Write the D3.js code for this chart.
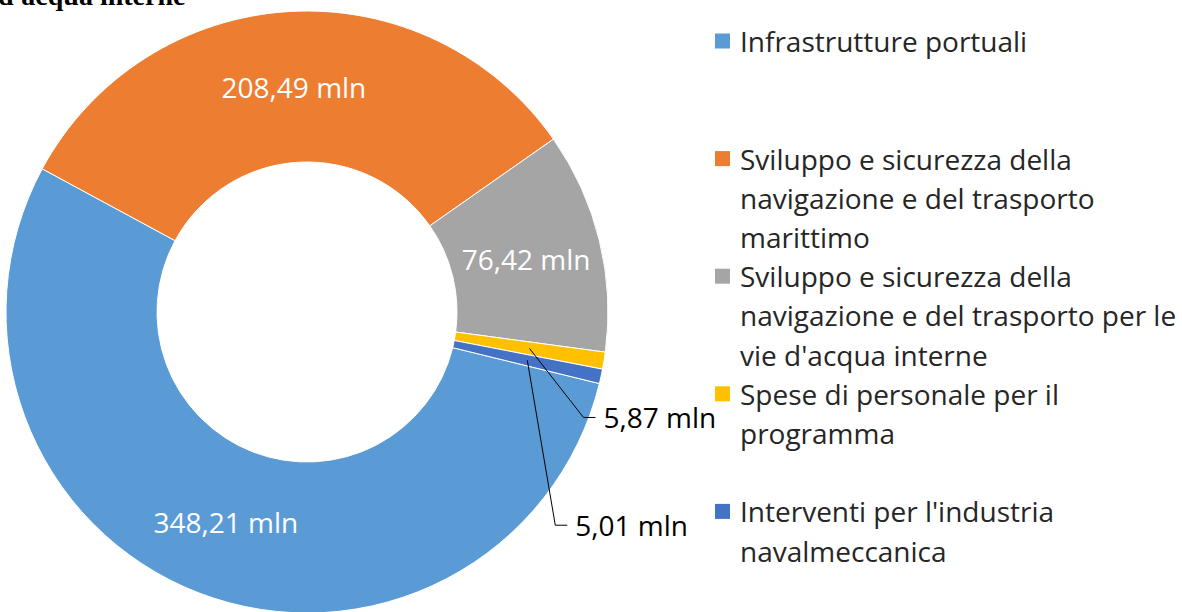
<!DOCTYPE html>
<html>
<head>
<meta charset="utf-8">
<script src="https://cdn.jsdelivr.net/npm/d3@7"></script>
<style>
  html, body { margin: 0; padding: 0; background: #fff; }
  svg { display: block; }
</style>
</head>
<body>
<svg id="chart" width="1182" height="612"></svg>
<script>
// ---- data ----
const categories = [
  "Infrastrutture portuali",
  "Sviluppo e sicurezza della navigazione e del trasporto marittimo",
  "Sviluppo e sicurezza della navigazione e del trasporto per le vie d'acqua interne",
  "Spese di personale per il programma",
  "Interventi per l'industria navalmeccanica"
];
const values = [348.21, 208.49, 76.42, 5.87, 5.01];
const valueLabels = ["348,21 mln", "208,49 mln", "76,42 mln", "5,87 mln", "5,01 mln"];
const legendLines = [
  ["Infrastrutture portuali"],
  ["Sviluppo e sicurezza della", "navigazione e del trasporto", "marittimo"],
  ["Sviluppo e sicurezza della", "navigazione e del trasporto per le", "vie d'acqua interne"],
  ["Spese di personale per il", "programma"],
  ["Interventi per l'industria", "navalmeccanica"]
];
const colors = ["#5B9BD5", "#ED7D31", "#A5A5A5", "#FFC000", "#4472C4"];
const titleText = "d'acqua interne";

// ---- layout ----
const svg = d3.select("#chart");
const cx = 307, cy = 312, outerR = 301, innerR = 150;
const startDeg = 103.75;
const font = "'Open Sans', 'Noto Sans', sans-serif";

// title (cut off at top, as in the reference)
svg.append("text")
  .attr("x", -2).attr("y", 5)
  .attr("font-family", "'Liberation Serif', 'DejaVu Serif', serif")
  .attr("font-weight", "bold")
  .attr("font-size", 28)
  .attr("fill", "#000")
  .text(titleText);

const pie = d3.pie().sort(null).value(d => d)
  .startAngle(startDeg * Math.PI / 180)
  .endAngle(startDeg * Math.PI / 180 + 2 * Math.PI);
const arcs = pie(values);
const arc = d3.arc().innerRadius(innerR).outerRadius(outerR);

const g = svg.append("g").attr("transform", `translate(${cx},${cy})`);
g.selectAll("path.slice").data(arcs).enter().append("path")
  .attr("class", "slice")
  .attr("d", arc)
  .attr("fill", (d, i) => colors[i])
  .attr("stroke", "#fff")
  .attr("stroke-width", 1);

// inside labels for the three large slices
const inside = [0, 1, 2];
g.selectAll("text.in").data(inside).enter().append("text")
  .attr("class", "in")
  .attr("x", i => arc.centroid(arcs[i])[0])
  .attr("y", i => arc.centroid(arcs[i])[1])
  .attr("text-anchor", "middle")
  .attr("dominant-baseline", "central")
  .attr("font-family", font)
  .attr("font-size", 28)
  .attr("fill", "#fff")
  .text(i => valueLabels[i]);

// outside labels with leader lines for the two small slices
const outside = [
  { i: 3, dx: 74, dy: 69 },
  { i: 4, dx: 48, dy: 165 }
];
outside.forEach(o => {
  const c = arc.centroid(arcs[o.i]);
  const ex = c[0] + o.dx, ey = c[1] + o.dy;
  g.append("polyline")
    .attr("points", [[c[0], c[1]], [ex - 20, ey], [ex - 8, ey]].map(p => p.join(",")).join(" "))
    .attr("fill", "none")
    .attr("stroke", "#000")
    .attr("stroke-width", 1);
  g.append("text")
    .attr("x", ex)
    .attr("y", ey)
    .attr("dominant-baseline", "central")
    .attr("font-family", font)
    .attr("font-size", 28)
    .attr("fill", "#000")
    .text(valueLabels[o.i]);
});

// legend
const legX = 715, legY0 = 41, lineH = 39.2, slotH = 3 * lineH, sw = 15;
const leg = svg.append("g");
categories.forEach((cat, i) => {
  const y = legY0 + i * slotH;
  leg.append("rect")
    .attr("x", legX).attr("y", y - sw / 2)
    .attr("width", sw).attr("height", sw)
    .attr("fill", colors[i]);
  legendLines[i].forEach((line, j) => {
    leg.append("text")
      .attr("x", legX + 25)
      .attr("y", y + j * lineH)
      .attr("dominant-baseline", "central")
      .attr("font-family", font)
      .attr("font-size", 28)
      .attr("fill", "#262626")
      .text(line);
  });
});
</script>
</body>
</html>
